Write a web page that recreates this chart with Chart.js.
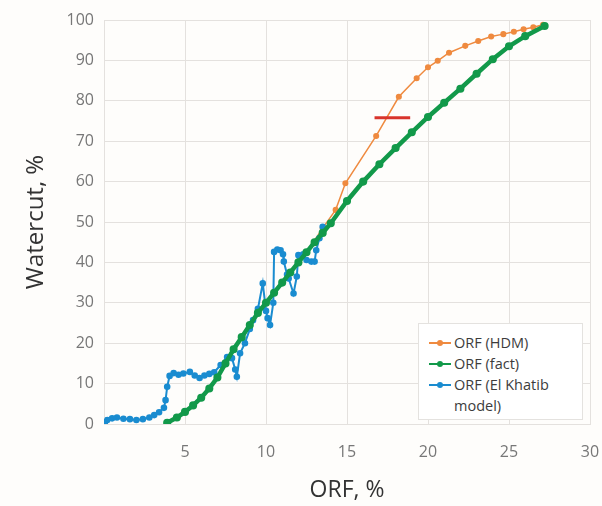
<!DOCTYPE html>
<html>
<head>
<meta charset="UTF-8">
<title>Watercut vs ORF</title>
<script src="https://cdn.jsdelivr.net/npm/chart.js"></script>
<style>
  html, body { margin: 0; padding: 0; background: #fefdfb; }
  .wrap { position: relative; width: 602px; height: 506px; }
  .legend { position: absolute; left: 418px; top: 323px; width: 165px; height: 97px; background: #fff; border: 1px solid #e4e2df; box-sizing: border-box; padding: 8px 0 0 10px; font-family: 'Open Sans', sans-serif; font-size: 14.5px; color: #3c3c3c; }
  .legend .item { display: flex; align-items: flex-start; line-height: 21px; }
  .legend .mark { position: relative; width: 22px; height: 21px; flex: none; margin-right: 3px; }
  .legend .mark i { position: absolute; left: 0; right: 0; top: 10px; height: 2px; }
  .legend .mark b { position: absolute; left: 8px; top: 8px; width: 6px; height: 6px; border-radius: 50%; }
</style>
</head>
<body>
<div class="wrap">
  <canvas id="chart" width="602" height="506"></canvas>
  <div class="legend" id="legend"></div>
</div>
<script>
// ORF (HDM)
const hdmX = [12.5, 13.5, 14.3, 14.9, 16.8, 18.2, 19.3, 20.0, 20.6, 21.3, 22.3, 23.1, 23.9, 24.65, 25.3, 25.9, 26.5, 27.1];
const hdmY = [42.5, 48.5, 53.0, 59.6, 71.3, 81.0, 85.6, 88.3, 89.9, 91.9, 93.6, 94.8, 95.9, 96.5, 97.1, 97.7, 98.2, 98.8];

// ORF (fact)
const factX = [3.9, 4.5, 5.0, 5.5, 6.0, 6.5, 7.0, 7.5, 8.0, 8.5, 9.0, 9.5, 10.0, 10.5, 11.0, 11.5, 12.0, 12.5, 13.0, 13.5, 14.0, 15.0, 16.0, 17.0, 18.0, 19.0, 20.0, 21.0, 22.0, 23.0, 24.0, 25.0, 26.0, 27.2];
const factY = [0.3, 1.6, 3.0, 4.6, 6.5, 8.8, 11.5, 15.0, 18.5, 21.5, 24.5, 27.5, 30.0, 32.5, 35.0, 37.5, 40.0, 42.5, 45.0, 47.3, 49.7, 55.2, 60.0, 64.3, 68.3, 72.2, 76.0, 79.5, 83.0, 86.7, 90.3, 93.5, 96.0, 98.5];

// ORF (El Khatib model)
const khatibX = [0.05, 0.2, 0.5, 0.8, 1.2, 1.6, 2.0, 2.4, 2.8, 3.1, 3.4, 3.7, 3.8, 3.9, 4.05, 4.3, 4.6, 4.9, 5.3, 5.6, 5.9, 6.2, 6.5, 6.8, 7.2, 7.6, 7.9, 8.1, 8.2, 8.4, 8.7, 9.0, 9.2, 9.5, 9.8, 10.0, 10.1, 10.25, 10.45, 10.5, 10.7, 10.9, 11.05, 11.1, 11.3, 11.4, 11.7, 11.9, 12.0, 12.3, 12.5, 12.8, 13.0, 13.1, 13.3, 13.5];
const khatibY = [0.3, 1.0, 1.4, 1.6, 1.3, 1.2, 1.0, 1.2, 1.6, 2.2, 2.9, 4.0, 5.9, 9.2, 11.9, 12.6, 12.2, 12.5, 12.9, 12.0, 11.4, 12.0, 12.4, 12.8, 14.6, 16.6, 16.3, 13.5, 11.7, 17.5, 20.0, 23.5, 25.7, 28.5, 34.8, 28.0, 26.2, 24.5, 30.0, 42.6, 43.2, 43.0, 42.0, 40.2, 37.0, 36.0, 32.3, 36.5, 41.8, 42.0, 40.6, 40.2, 40.2, 43.0, 46.0, 48.8];

// red marker segment
const markX = [16.7, 18.9];
const markY = [75.8, 75.8];

const xTicks = [0, 5, 10, 15, 20, 25, 30];

function pts(xs, ys) { return xs.map((x, i) => ({ x: x, y: ys[i] })); }

const datasets = [
  { label: 'mark', data: pts(markX, markY), borderColor: '#d8342c', borderWidth: 3, pointRadius: 0, order: 0 },
  { label: 'ORF (fact)', data: pts(factX, factY), borderColor: '#12994a', backgroundColor: '#12994a', borderWidth: 4.5, pointRadius: 1.8, order: 1 },
  { label: 'ORF (El Khatib model)', data: pts(khatibX, khatibY), borderColor: '#1a8cd0', backgroundColor: '#1a8cd0', borderWidth: 2, pointRadius: 2.3, order: 2 },
  { label: 'ORF (HDM)', data: pts(hdmX, hdmY), borderColor: '#ef8a3f', backgroundColor: '#ef8a3f', borderWidth: 1.5, pointRadius: 2.3, order: 3 }
];

const gridColor = '#e4e1de';

new Chart(document.getElementById('chart'), {
  type: 'line',
  data: { datasets: datasets },
  options: {
    responsive: false,
    animation: false,
    layout: { padding: { top: 20, right: 12, left: 0, bottom: 0 } },
    plugins: { legend: { display: false }, tooltip: { enabled: false } },
    scales: {
      x: {
        type: 'linear', min: 0, max: 30,
        afterBuildTicks: s => { s.ticks = xTicks.map(v => ({ value: v })); },
        // label offset comes from tickLength so the side padding stays small
        ticks: { color: '#777', font: { family: 'Open Sans', size: 16 }, padding: 2, callback: v => v === 0 ? '' : v },
        grid: { color: gridColor, drawTicks: true, tickLength: 17, tickColor: 'rgba(0,0,0,0)' },
        border: { color: gridColor },
        title: { display: true, text: 'ORF, %', color: '#333', font: { family: 'Open Sans', size: 23 }, padding: { top: 4, bottom: 2 } },
        afterFit: s => { s.height = 82; }
      },
      y: {
        min: 0, max: 100,
        ticks: { stepSize: 10, color: '#777', font: { family: 'Open Sans', size: 16 }, padding: 10 },
        grid: { color: gridColor, drawTicks: false },
        border: { color: gridColor },
        title: { display: true, text: 'Watercut, %', color: '#333', font: { family: 'Open Sans', size: 24 }, padding: { top: 22, bottom: 4 } },
        afterFit: s => { s.width = 104; }
      }
    }
  }
});

// legend in the same order as the reference
const legendItems = [datasets[3], datasets[1], datasets[2]];
const legendText = ['ORF (HDM)', 'ORF (fact)', 'ORF (El Khatib<br>model)'];
document.getElementById('legend').innerHTML = legendItems.map((d, i) =>
  '<div class="item"><span class="mark"><i style="background:' + d.borderColor + '"></i><b style="background:' + d.borderColor + '"></b></span><span>' + legendText[i] + '</span></div>'
).join('');
</script>
</body>
</html>
